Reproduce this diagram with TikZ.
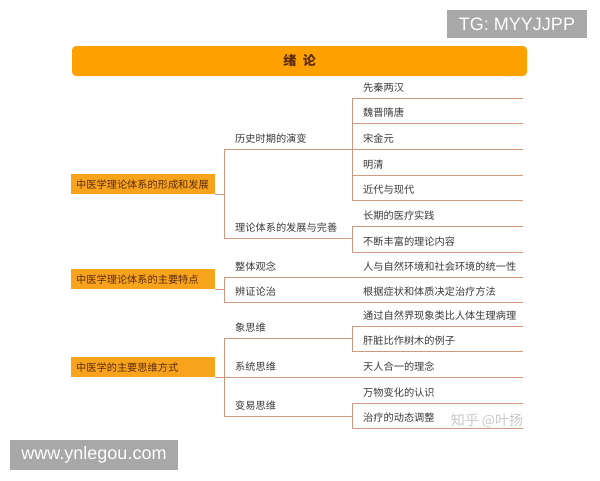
\documentclass[tikz,border=0pt]{standalone}
\usepackage{fontspec}
\setmainfont{Liberation Sans}
\newfontfamily\cjk{Noto Sans CJK SC}
\definecolor{titleorange}{HTML}{FFA100}
\definecolor{boxorange}{HTML}{F7A31C}
\definecolor{linec}{HTML}{D09A80}
\definecolor{textc}{HTML}{3A3A3A}
\definecolor{boxtext}{HTML}{5B2C0E}
\definecolor{graybox}{HTML}{A8A8A8}
\definecolor{wmc}{HTML}{C9C9C9}
\begin{document}
\begin{tikzpicture}[x=1pt,y=-1pt,
  ln/.style={draw=linec,line width=1pt},
  itemnode/.style={inner xsep=0pt,inner ysep=0pt,minimum height=21pt,text width=#1,align=left,
     anchor=south west,text=textc,font=\cjk\fontsize{10.2}{12}\selectfont,
     execute at begin node=\hspace*{11pt}},
  leaf/.style={itemnode=171pt},
  mid/.style={itemnode=128pt},
  lbox/.style={fill=boxorange,inner xsep=0pt,inner ysep=0pt,minimum height=20pt,text width=144pt,
     align=left,anchor=north west,text=boxtext,font=\cjk\fontsize{10.2}{12}\selectfont,
     execute at begin node=\hspace*{5pt}},
  tag/.style={fill=graybox,text=white,inner sep=0pt,font=\fontsize{18}{20}\selectfont}
]
\useasboundingbox (0,0) rectangle (600,480);
\fill[white] (0,0) rectangle (600,480);

% title
\node[fill=titleorange,rounded corners=4pt,minimum width=455pt,minimum height=30pt,inner sep=0pt,
  text=boxtext,font=\cjk\bfseries\fontsize{13}{15}\selectfont] (title) at (299.5,61) {绪\hspace{0.5em}论};

% tags
\node[tag,minimum width=140pt,minimum height=28pt] (tg) at (517,24) {TG: MYYJJPP};
\node[tag,minimum width=168pt,minimum height=30pt] (www) at (94,455) {www.ynlegou.com};

% section 1
\node[lbox] (b1) at (71,174) {中医学理论体系的形成和发展};
\node[mid] (n11) at (224,149) {历史时期的演变};
\node[mid] (n12) at (224,238) {理论体系的发展与完善};
\node[leaf] (l11) at (352,98) {先秦两汉};
\node[leaf] (l12) at (352,123) {魏晋隋唐};
\node[leaf] (l13) at (352,149) {宋金元};
\node[leaf] (l14) at (352,175) {明清};
\node[leaf] (l15) at (352,200) {近代与现代};
\node[leaf] (l16) at (352,226) {长期的医疗实践};
\node[leaf] (l17) at (352,252) {不断丰富的理论内容};

\draw[ln] (b1.south east) -- (b1.south east -| n11.south west);
\draw[ln] (n11.south west) -- (n12.south west);
\draw[ln] (n11.south west) -- (n11.south east);
\draw[ln] (n12.south west) -- (n12.south east);
\draw[ln] (l11.south west) -- (l15.south west);
\draw[ln] (l16.south west) -- (l17.south west);
\foreach \n in {l11,l12,l13,l14,l15,l16,l17} \draw[ln] (\n.south west) -- (\n.south east);

% section 2
\node[lbox] (b2) at (71,269) {中医学理论体系的主要特点};
\node[mid] (n21) at (224,277) {整体观念};
\node[mid] (n22) at (224,302) {辨证论治};
\node[leaf] (l21) at (352,277) {人与自然环境和社会环境的统一性};
\node[leaf] (l22) at (352,302) {根据症状和体质决定治疗方法};
\draw[ln] (b2.south east) -- (b2.south east -| n21.south west);
\draw[ln] (n21.south west) -- (n22.south west);
\draw[ln] (n21.south west) -- (l21.south east);
\draw[ln] (n22.south west) -- (l22.south east);

% section 3
\node[lbox] (b3) at (71,357) {中医学的主要思维方式};
\node[mid] (n31) at (224,338) {象思维};
\node[mid] (n32) at (224,377) {系统思维};
\node[mid] (n33) at (224,416) {变易思维};
\node[leaf] (l31) at (352,326) {通过自然界现象类比人体生理病理};
\node[leaf] (l32) at (352,351) {肝脏比作树木的例子};
\node[leaf] (l33) at (352,377) {天人合一的理念};
\node[leaf] (l34) at (352,403) {万物变化的认识};
\node[leaf] (l35) at (352,428) {治疗的动态调整};
\draw[ln] (b3.south east) -- (b3.south east -| n31.south west);
\draw[ln] (n31.south west) -- (n33.south west);
\draw[ln] (n31.south west) -- (n31.south east);
\draw[ln] (n32.south west) -- (l33.south east);
\draw[ln] (n33.south west) -- (n33.south east);
\draw[ln] (l31.south west) -- (l32.south west);
\draw[ln] (l34.south west) -- (l35.south west);
\foreach \n in {l31,l32,l34,l35} \draw[ln] (\n.south west) -- (\n.south east);

% watermark
\node[text=wmc,inner sep=0pt,font=\cjk\fontsize{14}{16}\selectfont] (wm) at (487,421) {知乎 @叶扬};
\end{tikzpicture}
\end{document}
